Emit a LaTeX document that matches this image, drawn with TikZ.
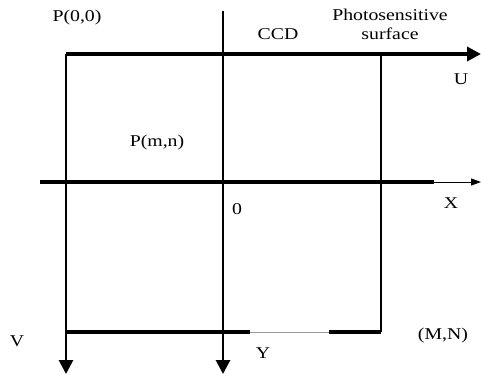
\documentclass[tikz,border=0pt]{standalone}
\usepackage{fontspec}
\setmainfont{Liberation Serif}
\usetikzlibrary{arrows.meta}
\newcommand{\wt}[1]{\scalebox{1.2}[1]{#1}}
\begin{document}
\begin{tikzpicture}[x=1pt,y=-1pt,
  lbl/.style={inner sep=0pt, font=\fontsize{16.5}{19}\selectfont, align=center},
  thickln/.style={line width=3.6pt},
  vln/.style={line width=2.8pt},
  tip/.style={-{Triangle[length=14pt,width=14pt]}}]
\useasboundingbox (0,0) rectangle (481,376);
% coordinates
\coordinate (tl) at (66,54);
\coordinate (tr) at (381,54);
\coordinate (uend) at (481,54);
\coordinate (vend) at (66,374);
\coordinate (mtop) at (223,11);
\coordinate (mend) at (223,374);
\coordinate (br) at (381,332);
\coordinate (bl) at (66,332);
\coordinate (g1) at (250,332);
\coordinate (g2) at (329,332);
\coordinate (xs) at (40,182);
\coordinate (xm) at (434,182);
\coordinate (xend) at (481,182);
% lines
\draw[thickln,tip] (tl) -- (uend);
\draw[vln,tip] (tl) -- (vend);
\draw[vln,tip] (mtop) -- (mend);
\draw[vln] (tr) -- (br);
\draw[thickln] (bl) -- (g1);
\draw[thickln] (g2) -- (br);
\draw[line width=0.4pt,black!40] (g1) -- (g2);
\draw[thickln] (xs) -- (xm);
\draw[line width=1pt,-{Triangle[length=10pt,width=7pt]}] (xm) -- (xend);
% labels
\node[lbl] (p00) at (77,18) {\wt{P(0,0)}};
\node[lbl] (ccd) at (278,34) {\wt{CCD}};
\node[lbl] (ps) at (390,24) {\wt{Photosensitive}\\\wt{surface}};
\node[lbl] (u) at (461,79) {\wt{U}};
\node[lbl] (pmn) at (157,143) {\wt{P(m,n)}};
\node[lbl] (o) at (237,209) {\wt{0}};
\node[lbl] (x) at (451,203) {\wt{X}};
\node[lbl] (v) at (17,341) {\wt{V}};
\node[lbl] (mn) at (443,336) {\wt{(M,N)}};
\node[lbl] (y) at (263,353) {\wt{Y}};
\end{tikzpicture}
\end{document}
